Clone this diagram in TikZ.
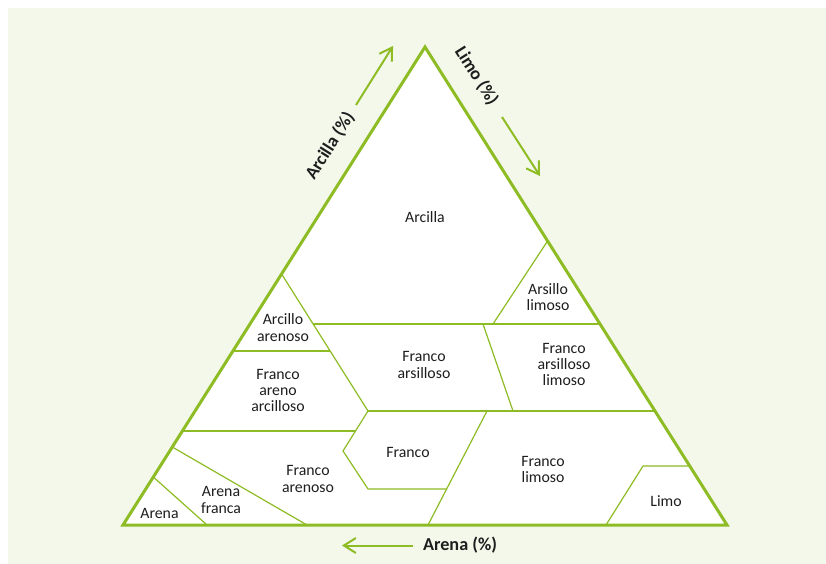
\documentclass[tikz,border=0pt]{standalone}
\usepackage{fontspec}
\setmainfont{Carlito}
\usetikzlibrary{arrows.meta}
\definecolor{soilgreen}{RGB}{141,188,36}
\definecolor{bgpale}{RGB}{244,248,235}
\definecolor{txtdark}{RGB}{30,30,30}
\tikzset{
  zone/.style={draw=soilgreen, line width=1.2bp},
  rim/.style={draw=soilgreen, line width=3bp, line join=miter},
  lbl/.style={font=\fontsize{15.8bp}{16.3bp}\selectfont, text=txtdark, align=center, inner sep=0pt},
  axlbl/.style={font=\fontsize{18.2bp}{20bp}\selectfont\bfseries, text=txtdark, inner sep=0pt},
  axarrow/.style={draw=soilgreen, line width=2bp, -{Straight Barb[length=12bp,width=15bp]}}
}
\begin{document}
\begin{tikzpicture}[x=1bp,y=-1bp]
  \useasboundingbox (0,0) rectangle (826,564);
  \fill[white] (0,0) rectangle (826,564);
  \fill[bgpale] (8,8) rectangle (826,564);
  % triangle corners
  \coordinate (A) at (425,47);
  \coordinate (BL) at (123,525);
  \coordinate (BR) at (727,525);
  % left edge points
  \coordinate (L1) at (281.58,274);
  \coordinate (L2) at (232.93,351);
  \coordinate (L3) at (182.39,431);
  \coordinate (L4) at (172.28,447);
  \coordinate (L5) at (153.33,477);
  % right edge points
  \coordinate (R1) at (547.57,241);
  \coordinate (R2) at (600.01,324);
  \coordinate (R3) at (654.98,411);
  \coordinate (R4) at (689.72,466);
  % bottom edge points
  \coordinate (B1) at (207,525);
  \coordinate (B2) at (307,525);
  \coordinate (B3) at (428,525);
  \coordinate (B4) at (606,525);
  % interior points
  \coordinate (P1) at (313.12,324);
  \coordinate (P2) at (330.15,351);
  \coordinate (K) at (368,411);
  \coordinate (M) at (355.5,431);
  \coordinate (H1) at (343,451);
  \coordinate (H2) at (368,489);
  \coordinate (H3) at (446.63,489);
  \coordinate (G) at (487,411);
  \coordinate (Q) at (493,324);
  \coordinate (S) at (483,324);
  \coordinate (T) at (513,411);
  \coordinate (Lm) at (643,466);

  \fill[white] (A) -- (BL) -- (BR) -- cycle;

  % zone boundaries
  \draw[zone] (L1) -- (K);
  \draw[zone] (L2) -- (P2);
  \draw[zone] (P1) -- (R2);
  \draw[zone] (R1) -- (Q);
  \draw[zone] (S) -- (T);
  \draw[zone] (L3) -- (M);
  \draw[zone] (K) -- (R3);
  \draw[zone] (K) -- (H1) -- (H2) -- (H3);
  \draw[zone] (G) -- (B3);
  \draw[zone] (L4) -- (B2);
  \draw[zone] (L5) -- (B1);
  \draw[zone] (B4) -- (Lm) -- (R4);

  % outline
  \draw[rim] (A) -- (BL) -- (BR) -- cycle;

  % zone labels
  \node[lbl] (arcilla) at (425,217) {Arcilla};
  \node[lbl] (arslim) at (548,297) {Arsillo\\limoso};
  \node[lbl] (arcaren) at (283,327.5) {Arcillo\\arenoso};
  \node[lbl] (frars) at (424,365) {Franco\\arsilloso};
  \node[lbl] (frarslim) at (564,364.5) {Franco\\arsilloso\\limoso};
  \node[lbl] (frarearc) at (278,390.5) {Franco\\areno\\arcilloso};
  \node[lbl] (franco) at (408,452.5) {Franco};
  \node[lbl] (frlim) at (543,469.5) {Franco\\limoso};
  \node[lbl] (fraren) at (308,479) {Franco\\arenoso};
  \node[lbl] (arfr) at (221,500) {Arena\\franca};
  \node[lbl] (arena) at (159.5,513) {Arena};
  \node[lbl] (limo) at (666,501) {Limo};

  % axis labels
  \node[axlbl, rotate=57.7] (axarc) at (330,146) {Arcilla (\%)};
  \node[axlbl, rotate=-57.7] (axlim) at (476.5,76) {Limo (\%)};
  \node[axlbl] (axare) at (460,545) {Arena (\%)};

  % axis arrows
  \coordinate (arcS) at (356,105);
  \coordinate (arcE) at (393,46);
  \coordinate (limS) at (502,117);
  \coordinate (limE) at (540,176);
  \coordinate (areS) at (413,545.5);
  \coordinate (areE) at (342,545.5);
  \draw[axarrow] (arcS) -- (arcE);
  \draw[axarrow] (limS) -- (limE);
  \draw[axarrow] (areS) -- (areE);
\end{tikzpicture}
\end{document}
